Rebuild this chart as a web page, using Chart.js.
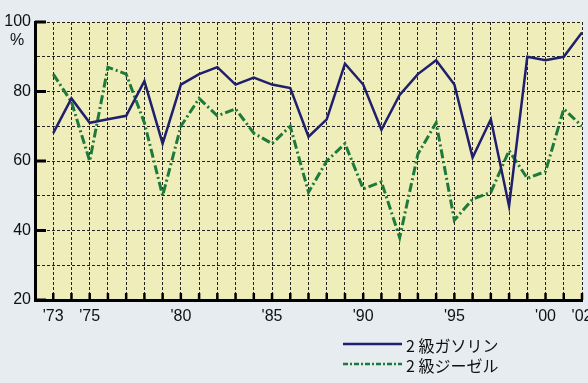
<!DOCTYPE html>
<html>
<head>
<meta charset="utf-8">
<script src="https://cdn.jsdelivr.net/npm/chart.js@4"></script>
<style>
  body { margin: 0; background: #e6ecf0; }
  #wrap { width: 588px; height: 383px; }
</style>
</head>
<body>
<div id="wrap"><canvas id="c"></canvas></div>
<script>
const years = [1973, 1974, 1975, 1976, 1977, 1978, 1979, 1980, 1981, 1982,
  1983, 1984, 1985, 1986, 1987, 1988, 1989, 1990, 1991, 1992,
  1993, 1994, 1995, 1996, 1997, 1998, 1999, 2000, 2001, 2002];
const gasoline = [68, 78, 71, 72, 73, 83, 65, 82, 85, 87,
  82, 84, 82, 81, 67, 72, 88, 82, 69, 79,
  85, 89, 82, 61, 72, 47, 90, 89, 90, 97];
const diesel = [85, 77, 60, 87, 85, 71, 50, 70, 78, 73,
  75, 68, 65, 70, 51, 60, 65, 52, 54, 38,
  62, 71, 43, 49, 51, 63, 55, 57, 75, 70];
const tickYears = [1973, 1975, 1980, 1985, 1990, 1995, 2000, 2002];
const tickLabels = ["'73", "'75", "'80", "'85", "'90", "'95", "'00", "'02"];
const yLabels = [20, 40, 60, 80, 100];
const seriesNames = ["2 級ガソリン", "2 級ジーゼル"];

const BLUE = "#1f1f6e";
const GREEN = "#1d7a3a";
const GREEN_DASH = [9, 3, 2, 3];

const decor = {
  id: "decor",
  beforeDraw(chart) {
    const { ctx, chartArea: a } = chart;
    ctx.save();
    ctx.fillStyle = "#efedb9";
    ctx.fillRect(a.left, a.top, a.right - a.left, a.bottom - a.top);
    ctx.restore();
  },
  afterDraw(chart) {
    const { ctx, chartArea: a } = chart;
    const xs = chart.scales.x, ys = chart.scales.y;
    ctx.save();
    ctx.strokeStyle = "#000";
    // inward ticks on the bottom axis, one per year
    ctx.lineWidth = 2.5;
    years.forEach((yr) => {
      const x = xs.getPixelForValue(yr);
      ctx.beginPath();
      ctx.moveTo(x, a.bottom);
      ctx.lineTo(x, a.bottom - 7);
      ctx.stroke();
    });
    // inward ticks on the left axis
    ctx.lineWidth = 3;
    yLabels.forEach((v) => {
      const y = ys.getPixelForValue(v);
      ctx.beginPath();
      ctx.moveTo(a.left, y);
      ctx.lineTo(a.left + 11, y);
      ctx.stroke();
    });
    // unit
    ctx.fillStyle = "#111";
    ctx.font = "16px 'Liberation Sans', Arial, sans-serif";
    ctx.textAlign = "center";
    ctx.textBaseline = "middle";
    ctx.fillText("%", 17, ys.getPixelForValue(100) + 19);
    // legend
    ctx.lineWidth = 2.5;
    ctx.strokeStyle = BLUE;
    ctx.beginPath();
    ctx.moveTo(343, 344);
    ctx.lineTo(402, 344);
    ctx.stroke();
    ctx.strokeStyle = GREEN;
    ctx.setLineDash([5, 2, 2, 2]);
    ctx.beginPath();
    ctx.moveTo(343, 364);
    ctx.lineTo(402, 364);
    ctx.stroke();
    ctx.setLineDash([]);
    ctx.textAlign = "left";
    ctx.font = "16px 'Noto Sans CJK JP', sans-serif";
    ctx.fillText(seriesNames[0], 406, 346);
    ctx.fillText(seriesNames[1], 406, 366);
    ctx.restore();
  },
};

new Chart(document.getElementById("c"), {
  type: "line",
  data: {
    datasets: [
      {
        label: seriesNames[0],
        data: years.map((yr, i) => ({ x: yr, y: gasoline[i] })),
        borderColor: BLUE,
        borderWidth: 2.5,
        pointRadius: 0,
        tension: 0,
      },
      {
        label: seriesNames[1],
        data: years.map((yr, i) => ({ x: yr, y: diesel[i] })),
        borderColor: GREEN,
        borderWidth: 3,
        borderDash: GREEN_DASH,
        pointRadius: 0,
        tension: 0,
      },
    ],
  },
  options: {
    responsive: true,
    maintainAspectRatio: false,
    animation: false,
    layout: { padding: { top: 22, right: 6, left: 0, bottom: 0 } },
    plugins: { legend: { display: false }, tooltip: { enabled: false } },
    scales: {
      x: {
        type: "linear",
        min: 1972,
        max: 2002,
        afterFit(s) {
          s.height = 83;
          s.paddingLeft = 0;
          s.paddingRight = 0;
        },
        ticks: {
          stepSize: 1,
          autoSkip: false,
          maxRotation: 0,
          padding: 7,
          color: "#111",
          font: { family: "'Liberation Sans', Arial, sans-serif", size: 16 },
          callback: (v) => {
            const i = tickYears.indexOf(v);
            return i >= 0 ? tickLabels[i] : "";
          },
        },
        grid: { color: "#222", lineWidth: 1, drawTicks: false },
        border: { color: "#000", width: 3, dash: [3, 2] },
      },
      y: {
        min: 20,
        max: 100,
        afterFit(s) {
          s.width = 35;
          s.paddingTop = 0;
          s.paddingBottom = 0;
        },
        ticks: {
          stepSize: 10,
          padding: 4,
          color: "#111",
          font: { family: "'Liberation Sans', Arial, sans-serif", size: 16 },
          callback: (v) => (yLabels.includes(v) ? String(v) : ""),
        },
        grid: { color: "#222", lineWidth: 1, drawTicks: false },
        border: { color: "#000", width: 3, dash: [3, 2] },
      },
    },
  },
  plugins: [decor],
});
</script>
</body>
</html>
